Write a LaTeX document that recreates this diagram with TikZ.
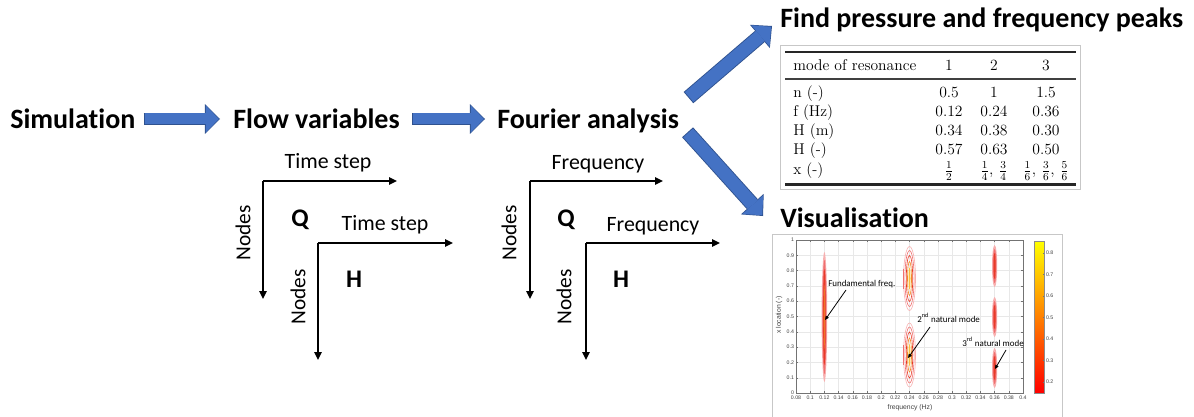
\documentclass[tikz,border=0pt]{standalone}
\usepackage{fontspec}
\newfontfamily\calfont[Ligatures=NoCommon]{Carlito}
\newfontfamily\arialfont{Liberation Sans}
\usetikzlibrary{arrows.meta}
\definecolor{arrowblue}{HTML}{4472C4}
\definecolor{arrowdark}{HTML}{2F528F}
\definecolor{cpink}{HTML}{F7B0B0}
\definecolor{clred}{HTML}{F07070}
\definecolor{cred}{HTML}{E83A28}
\definecolor{corange}{HTML}{F28C28}
\definecolor{cyel}{HTML}{F8C040}
\begin{document}
\begin{tikzpicture}[x=0.75pt,y=-0.75pt,
  title/.style={font=\calfont\bfseries\fontsize{21}{25}\selectfont, inner sep=0pt, anchor=base west},
  axlab/.style={font=\calfont\fontsize{16.4}{20}\selectfont, inner sep=0pt, anchor=base},
  nodeslab/.style={font=\calfont\fontsize{16}{20}\selectfont, inner sep=0pt, rotate=90},
  matlab/.style={font=\calfont\bfseries\fontsize{19}{23}\selectfont, inner sep=0pt},
  axarrow/.style={line width=1.4pt, -{Triangle[width=5.5pt,length=6pt]}},
  blockH/.style={line width=8.25pt, draw=arrowblue, shorten >=0.9pt,
    -{Triangle[width=20.25pt,length=9.75pt,line width=0pt]},
    preaction={draw=arrowdark, line width=9.6pt, shorten >=0pt, shorten <=-0.7pt,
      -{Triangle[width=22.3pt,length=11.3pt,line width=0pt]}}},
  blockD/.style={line width=9.75pt, draw=arrowblue, shorten >=0.9pt,
    -{Triangle[width=21pt,length=10.5pt,line width=0pt]},
    preaction={draw=arrowdark, line width=11.1pt, shorten >=0pt, shorten <=-0.7pt,
      -{Triangle[width=23pt,length=12pt,line width=0pt]}}},
  tab/.style={font=\fontsize{11.7}{14}\selectfont, inner sep=0pt, anchor=base},
  ticklab/.style={font=\arialfont\fontsize{3.9}{4.5}\selectfont, text=black!75, inner sep=0.6pt},
  plotlab/.style={font=\arialfont\fontsize{5.1}{6}\selectfont, text=black!75, inner sep=0pt},
  ann/.style={font=\calfont\fontsize{6.7}{8}\selectfont, inner sep=0pt, anchor=base west},
  annarrow/.style={line width=0.6pt, -{Triangle[width=2.6pt,length=3pt]}},
  grid/.style={draw=black!9, line width=0.3pt},
  ctr/.style={line width=0.45pt}
]
\useasboundingbox (0,0) rectangle (1194,417);

% ---------- titles ----------
\node[title] (sim) at (10,128) {Simulation};
\node[title] (flow) at (233,128) {Flow variables};
\node[title] (four) at (497,128) {Fourier analysis};
\node[title] (find) at (780,28) {Find pressure and frequency peaks};
\node[title] (vis) at (780,227) {Visualisation};

% ---------- block arrows ----------
\draw[blockH] ([shift={(9,-9)}]sim.base east) -- ([shift={(-13,-9)}]flow.base west);
\draw[blockH] ([shift={(13,-9)}]flow.base east) -- ([shift={(-12,-9)}]four.base west);
\draw[blockD] ([shift={(10,-31)}]four.base east) -- ([shift={(-8,-2)}]find.base west);
\draw[blockD] ([shift={(9,5)}]four.base east) -- ([shift={(-17,-11)}]vis.base west);

% ---------- Flow variables matrices ----------
\coordinate (q1c) at (263,181);
\coordinate (q1r) at (397,181);
\coordinate (q1d) at (263,299);
\draw[axarrow] (q1c) -- (q1r);
\draw[axarrow] (q1c) -- (q1d);
\node[axlab] (q1t) at (328,168) {Time step};
\node[nodeslab] (q1n) at (243,233) {Nodes};
\node[matlab] (q1q) at (300,219.5) {Q};

\coordinate (h1c) at (318,243);
\coordinate (h1r) at (453,243);
\coordinate (h1d) at (318,360);
\draw[axarrow] (h1c) -- (h1r);
\draw[axarrow] (h1c) -- (h1d);
\node[axlab] (h1t) at (385,230) {Time step};
\node[nodeslab] (h1n) at (298,297) {Nodes};
\node[matlab] (h1h) at (354,279.5) {H};

% ---------- Fourier matrices ----------
\coordinate (q2c) at (530,181);
\coordinate (q2r) at (663,181);
\coordinate (q2d) at (530,299);
\draw[axarrow] (q2c) -- (q2r);
\draw[axarrow] (q2c) -- (q2d);
\node[axlab] (q2t) at (598,169) {Frequency};
\node[nodeslab] (q2n) at (509,233) {Nodes};
\node[matlab] (q2q) at (566,219.5) {Q};

\coordinate (h2c) at (586,243);
\coordinate (h2r) at (720,243);
\coordinate (h2d) at (586,360);
\draw[axarrow] (h2c) -- (h2r);
\draw[axarrow] (h2c) -- (h2d);
\node[axlab] (h2t) at (653,231) {Frequency};
\node[nodeslab] (h2n) at (564,297) {Nodes};
\node[matlab] (h2h) at (621,279.5) {H};

% ---------- table ----------
\draw[black!22, line width=0.7pt] (780,45) rectangle (1080,189);
\draw[black!85, line width=1.3pt] (785,52) -- (1076,52);
\draw[black!75, line width=0.9pt] (785,79) -- (1076,79);
\draw[black!85, line width=1.7pt] (785,184.5) -- (1076,184.5);
\node[tab, anchor=base west] (th0) at (793,70.5) {mode of resonance};
\node[tab] (th1) at (949,70.5) {1};
\node[tab] (th2) at (994,70.5) {2};
\node[tab] (th3) at (1046,70.5) {3};
\node[tab, anchor=base west] (ta0) at (793,98) {n (-)};
\node[tab] (ta1) at (949,98) {0.5};
\node[tab] (ta2) at (994,98) {1};
\node[tab] (ta3) at (1046,98) {1.5};
\node[tab, anchor=base west] (tb0) at (793,117) {f (Hz)};
\node[tab] (tb1) at (949,117) {0.12};
\node[tab] (tb2) at (994,117) {0.24};
\node[tab] (tb3) at (1046,117) {0.36};
\node[tab, anchor=base west] (tc0) at (793,136) {H (m)};
\node[tab] (tc1) at (949,136) {0.34};
\node[tab] (tc2) at (994,136) {0.38};
\node[tab] (tc3) at (1046,136) {0.30};
\node[tab, anchor=base west] (td0) at (793,155) {H (-)};
\node[tab] (td1) at (949,155) {0.57};
\node[tab] (td2) at (994,155) {0.63};
\node[tab] (td3) at (1046,155) {0.50};
\node[tab, anchor=base west] (te0) at (793,175) {x (-)};
\node[tab] (te1) at (949,175) {$\frac{1}{2}$};
\node[tab] (te2) at (994,175) {$\frac{1}{4},\,\frac{3}{4}$};
\node[tab] (te3) at (1046,175) {$\frac{1}{6},\,\frac{3}{6},\,\frac{5}{6}$};

% ---------- plot ----------
\draw[black!22, line width=0.7pt] (772,418) -- (772,234) -- (1062,234) -- (1062,418);
\foreach \i in {1,...,15} \draw[grid] ({796+\i*14.1875},240) -- ({796+\i*14.1875},393);
\foreach \j in {1,...,9} \draw[grid] (796,{393-\j*15.3}) -- (1023,{393-\j*15.3});
\draw[black!55, line width=0.35pt] (796,240) rectangle (1023,393);
\foreach \i in {0,...,16} {
  \draw[black!55, line width=0.3pt] ({796+\i*14.1875},393) -- ({796+\i*14.1875},391);
  \draw[black!55, line width=0.3pt] ({796+\i*14.1875},240) -- ({796+\i*14.1875},242);
}
\foreach \j in {0,...,10} {
  \draw[black!55, line width=0.3pt] (796,{393-\j*15.3}) -- (798,{393-\j*15.3});
  \draw[black!55, line width=0.3pt] (1023,{393-\j*15.3}) -- (1021,{393-\j*15.3});
}
\foreach \lab [count=\i from 0] in {0.08,0.1,0.12,0.14,0.16,0.18,0.2,0.22,0.24,0.26,0.28,0.3,0.32,0.34,0.36,0.38,0.4}
  \node[ticklab, anchor=north] (xt\i) at ({796+\i*14.1875},394.5) {\lab};
\foreach \lab [count=\j from 0] in {0,0.1,0.2,0.3,0.4,0.5,0.6,0.7,0.8,0.9,1}
  \node[ticklab, anchor=east] (yt\j) at (795,{393-\j*15.3}) {\lab};
\node[plotlab] (xlab) at (910,408) {frequency (Hz)};
\node[plotlab, rotate=90] (ylab) at (779,315) {x location (-)};

% contours f = 0.12
\fill[cpink] (824.4,317) ellipse [x radius=2.8, y radius=65];
\fill[clred] (824.4,317) ellipse [x radius=2, y radius=57];
\fill[cred] (824.4,317) ellipse [x radius=1.3, y radius=48];
\fill[corange!70!cred] (824.4,317) ellipse [x radius=0.7, y radius=32];
% contours f = 0.24
\foreach \cy in {278.5,355} {
  \draw[ctr, cpink] (909.5,\cy) ellipse [x radius=6, y radius=32];
  \draw[ctr, clred] (909.5,\cy) ellipse [x radius=4.6, y radius=28];
  \draw[ctr, cred] (909.5,\cy) ellipse [x radius=3.2, y radius=23];
  \draw[ctr, corange] (909.5,\cy) ellipse [x radius=2, y radius=17];
  \fill[cyel] (909.5,\cy) ellipse [x radius=1, y radius=11];
  \draw[line width=0.7pt, clred] (903,{\cy-10}) -- (903,{\cy+10});
}
% contours f = 0.36
\foreach \cy/\hy in {266/21,317/20,368/20} {
  \fill[cpink] (994.6,\cy) ellipse [x radius=2.6, y radius=\hy];
  \fill[clred] (994.6,\cy) ellipse [x radius=1.8, y radius={\hy-4}];
  \fill[cred] (994.6,\cy) ellipse [x radius=1, y radius={\hy-8}];
}

% annotations
\node[ann] (ann1) at (828,286) {Fundamental freq.};
\coordinate (tip1) at (825,320);
\draw[annarrow] ([shift={(18,4)}]ann1.base west) -- (tip1);
\node[ann] (ann2) at (917,322) {2\textsuperscript{nd} natural mode};
\coordinate (tip2) at (908,358);
\draw[annarrow] ([shift={(13,5)}]ann2.base west) -- (tip2);
\node[ann] (ann3) at (962,346) {3\textsuperscript{rd} natural mode};
\coordinate (tip3) at (995,369);
\draw[annarrow] ([shift={(44,4)}]ann3.base west) -- (tip3);

% colorbar
\shade[top color=yellow, bottom color=red] (1034,241) rectangle (1044,393);
\draw[black!45, line width=0.3pt] (1034,241) rectangle (1044,393);
\foreach \lab [count=\k from 0] in {0.2,0.3,0.4,0.5,0.6,0.7,0.8} {
  \draw[black!55, line width=0.3pt] (1044,{382-\k*21.5}) -- (1042.5,{382-\k*21.5});
  \node[ticklab, anchor=west] (cb\k) at (1045,{382-\k*21.5}) {\lab};
}
\end{tikzpicture}
\end{document}
